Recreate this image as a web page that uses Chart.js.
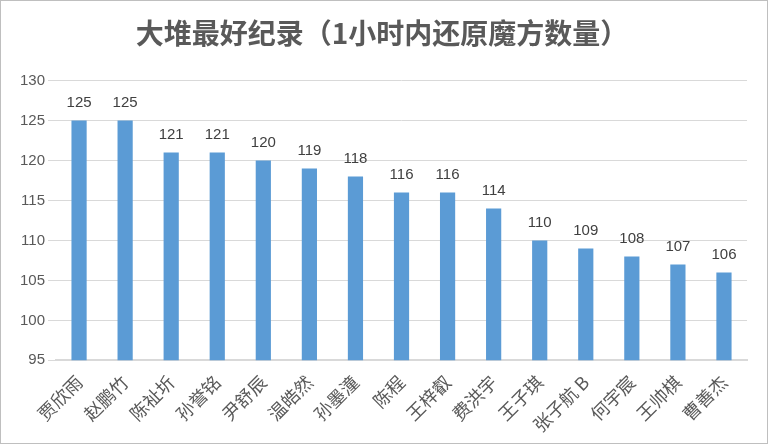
<!DOCTYPE html>
<html><head><meta charset="utf-8">
<script src="https://cdn.jsdelivr.net/npm/chart.js@4"></script>
<style>
html,body{margin:0;padding:0;background:#fff}
#wrap{position:absolute;left:0;top:0;width:766px;height:442px;border:1px solid #bfbfbf}
</style></head><body>
<div id="wrap"><canvas id="c"></canvas></div>
<script>
// 数据
const names = ['贾欣雨','赵鹏竹','陈祉圻','孙誉铭','尹舒辰','温皓然','孙墨潼','陈程','王梓叡','费洪宇','王子琪','张子航 B','何宇宸','王帅棋','曹善杰'];
const scores = [125,125,121,121,120,119,118,116,116,114,110,109,108,107,106];
const yTicks = [95,100,105,110,115,120,125,130];

const valueLabels = {
  id: 'valueLabels',
  afterDatasetsDraw(chart) {
    const ctx = chart.ctx;
    const meta = chart.getDatasetMeta(0);
    ctx.save();
    ctx.font = '15px "Liberation Sans", "Noto Sans CJK SC"';
    ctx.fillStyle = '#404040';
    ctx.textAlign = 'center';
    ctx.textBaseline = 'bottom';
    meta.data.forEach((bar, i) => ctx.fillText(scores[i], bar.x, bar.y - 10));
    ctx.restore();
  }
};

new Chart(document.getElementById('c'), {
  type: 'bar',
  data: {
    labels: names,
    datasets: [{ data: scores, backgroundColor: '#5b9bd5', barPercentage: 0.33, categoryPercentage: 1 }]
  },
  options: {
    responsive: true, maintainAspectRatio: false, animation: false,
    layout: { padding: { left: 16, right: 20, top: 14, bottom: 4 } },
    plugins: {
      legend: { display: false },
      tooltip: { enabled: false },
      title: {
        display: true, text: '大堆最好纪录（1小时内还原魔方数量）',
        color: '#595959', font: { size: 28, weight: 'bold', family: '"Noto Sans CJK SC"' },
        padding: { top: 2, bottom: 30 }
      }
    },
    scales: {
      x: {
        grid: { display: false },
        border: { color: '#d9d9d9', width: 2 },
        ticks: { color: '#595959', font: { size: 18, family: '"Noto Sans CJK SC"' }, maxRotation: 45, minRotation: 45, autoSkip: false }
      },
      y: {
        min: 95, max: 130,
        afterBuildTicks: axis => { axis.ticks = yTicks.map(v => ({ value: v })); },
        grid: { color: '#d9d9d9' },
        border: { display: false },
        ticks: { color: '#595959', font: { size: 15, family: '"Liberation Sans"' } }
      }
    }
  },
  plugins: [valueLabels]
});
</script>
</body></html>
